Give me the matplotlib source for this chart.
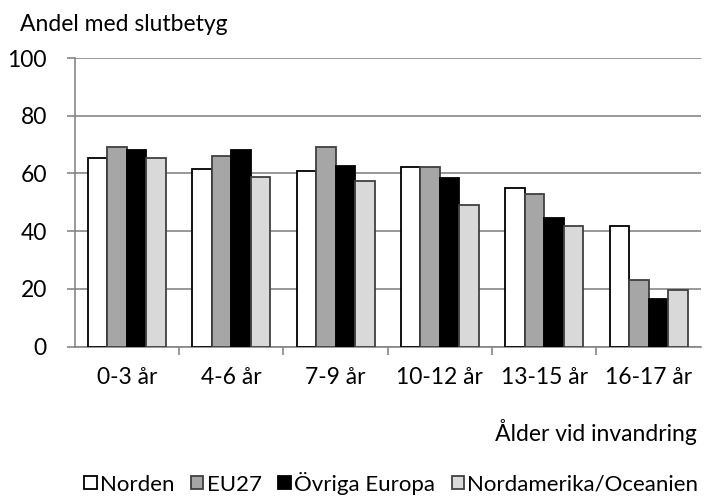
import matplotlib
matplotlib.use("Agg")
import matplotlib.pyplot as plt
import numpy as np
from matplotlib.patches import Patch

plt.rcParams['font.family'] = ['Lato', 'DejaVu Sans']

categories = ["0-3 år", "4-6 år", "7-9 år", "10-12 år", "13-15 år", "16-17 år"]
series_names = ["Norden", "EU27", "Övriga Europa", "Nordamerika/Oceanien"]
norden = [65.2, 61.7, 61.0, 62.3, 54.9, 41.8]
eu27 = [69.3, 65.9, 69.3, 62.3, 52.8, 23.1]
ovriga = [68.2, 68.2, 62.6, 58.4, 44.7, 16.4]
nordamerika = [65.2, 58.9, 57.5, 49.2, 41.8, 19.5]
y_ticks = [0, 20, 40, 60, 80, 100]

series = [norden, eu27, ovriga, nordamerika]
faces = ["#ffffff", "#a6a6a6", "#000000", "#d9d9d9"]
edges = ["#000000", "#404040", "#000000", "#404040"]

FS = 16.5

fig = plt.figure(figsize=(7.05, 4.98), dpi=100)
ax = fig.add_axes([0.106, 0.304, 0.888, 0.5795])

x = np.arange(len(categories))
w = 0.187
for i, (vals, fc, ec) in enumerate(zip(series, faces, edges)):
    ax.bar(x + (i - 1.5) * w, vals, width=w, color=fc, edgecolor=ec,
           linewidth=1.3, zorder=3, label=series_names[i])

ax.set_xlim(-0.5, len(categories) - 0.5)
ax.set_ylim(0, 100)
ax.set_yticks(y_ticks)
ax.yaxis.grid(True, color="#868686", linewidth=1.2, zorder=0)
ax.set_axisbelow(True)
for s in ["top", "right"]:
    ax.spines[s].set_visible(False)
for s in ["left", "bottom"]:
    ax.spines[s].set_color("#868686")
    ax.spines[s].set_linewidth(1.2)

ax.set_xticks(x)
ax.set_xticklabels(categories, fontsize=FS)
ax.tick_params(axis='x', length=0, pad=15)
ax.set_xticks(np.arange(0.5, len(categories) - 0.5, 1), minor=True)
ax.tick_params(axis='x', which='minor', length=6, color="#868686", width=1.2)
ax.tick_params(axis='y', length=6, color="#868686", width=1.2, labelsize=FS, pad=14)

fig.text(0.028, 0.95, "Andel med slutbetyg", fontsize=FS, ha='left', va='center')
fig.text(0.989, 0.133, "Ålder vid invandring", fontsize=FS, ha='right', va='center')

handles = [Patch(facecolor=fc, edgecolor=ec, linewidth=1.3) for fc, ec in zip(faces, edges)]
fig.legend(handles, series_names, loc='center', bbox_to_anchor=(0.555, 0.03), ncol=4,
           frameon=False, fontsize=16, handlelength=0.55, handleheight=0.55,
           handletextpad=0.15, columnspacing=0.75, borderpad=0)

fig.savefig("out.png", dpi=100)
